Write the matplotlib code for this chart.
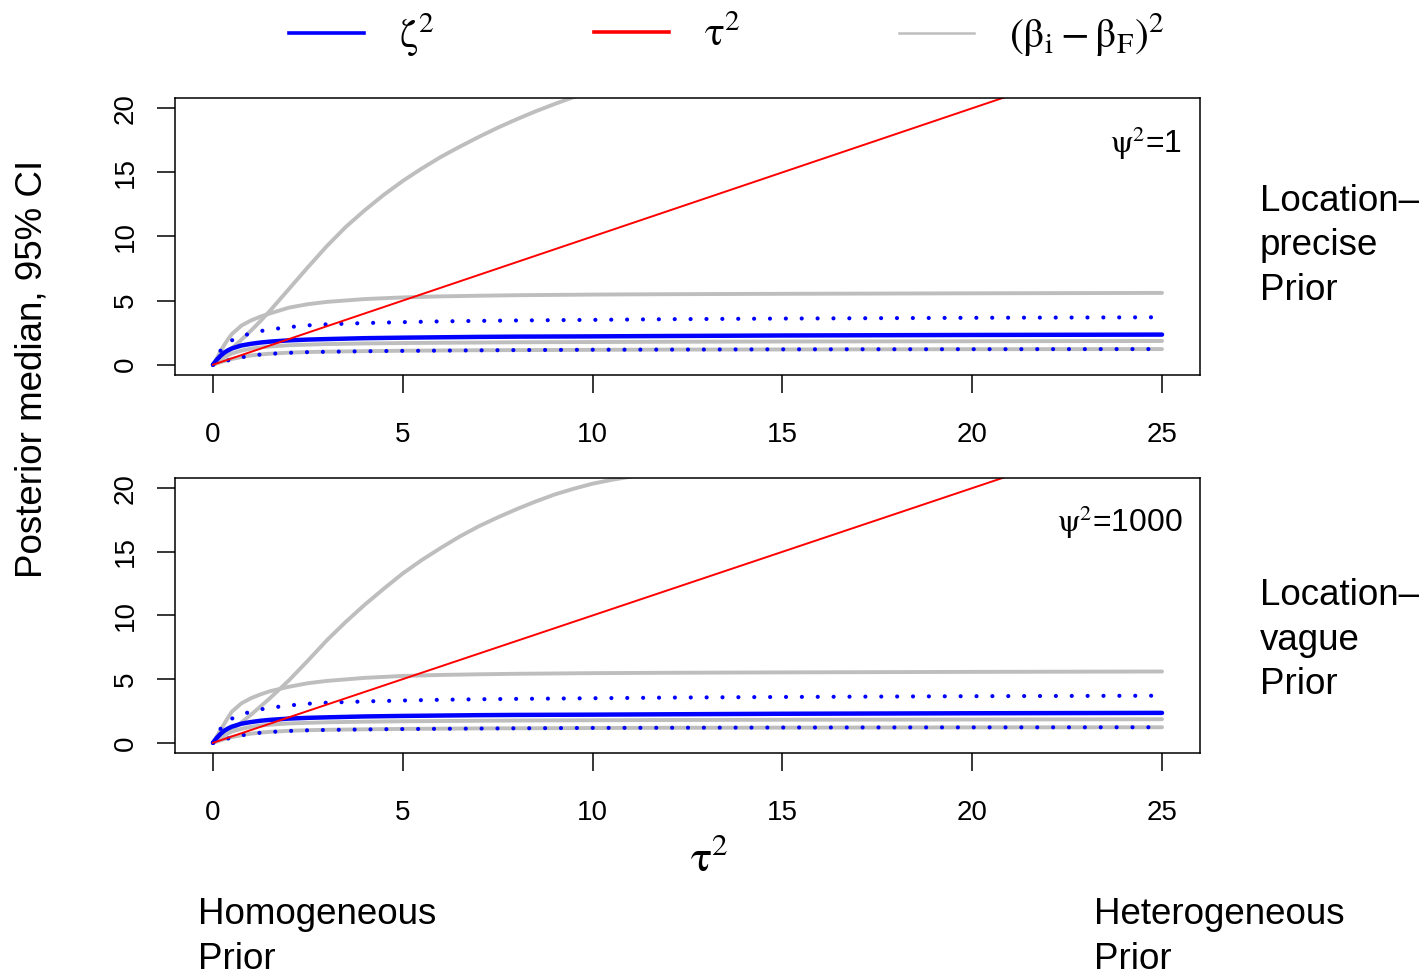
import matplotlib
matplotlib.use('Agg')
import matplotlib.pyplot as plt
from matplotlib.lines import Line2D

plt.rcParams['font.family'] = ['Liberation Sans', 'DejaVu Sans']
plt.rcParams['mathtext.fontset'] = 'stix'

# tau^2 grid the posterior summaries were read at
tau2 = [0, 0.1, 0.2, 0.3, 0.4, 0.5, 0.75, 1, 1.25, 1.5, 2, 2.5, 3, 4, 5, 6, 7, 8, 10, 12, 15, 20, 25]

# zeta^2: posterior median and 95% CI (same in both panels)
zeta_med = [0, 0.38, 0.7, 0.95, 1.13, 1.27, 1.5, 1.63, 1.73, 1.8, 1.9, 1.96, 2.0, 2.07, 2.11, 2.14, 2.17, 2.19, 2.21, 2.24, 2.28, 2.32, 2.35]
zeta_lo = [0, 0.09, 0.18, 0.27, 0.34, 0.41, 0.58, 0.7, 0.79, 0.85, 0.93, 0.98, 1.01, 1.05, 1.08, 1.1, 1.12, 1.14, 1.17, 1.18, 1.2, 1.21, 1.22]
zeta_hi = [0, 0.6, 1.1, 1.45, 1.72, 1.9, 2.22, 2.45, 2.62, 2.75, 2.93, 3.07, 3.15, 3.25, 3.32, 3.38, 3.42, 3.45, 3.5, 3.55, 3.6, 3.66, 3.7]

# (beta_i - beta_F)^2 summaries
beta_med = [0, 0.22, 0.42, 0.6, 0.75, 0.88, 1.1, 1.25, 1.35, 1.42, 1.52, 1.57, 1.61, 1.66, 1.69, 1.71, 1.73, 1.75, 1.77, 1.79, 1.81, 1.83, 1.85]
beta_lo = [0, 0.1, 0.2, 0.29, 0.37, 0.45, 0.6, 0.72, 0.8, 0.86, 0.94, 0.99, 1.02, 1.06, 1.09, 1.11, 1.13, 1.14, 1.16, 1.18, 1.19, 1.21, 1.22]
beta_hi_precise = [0, 0.5, 1.05, 1.55, 2.0, 2.4, 3.05, 3.45, 3.75, 4.0, 4.45, 4.72, 4.9, 5.12, 5.25, 5.33, 5.38, 5.42, 5.47, 5.5, 5.53, 5.57, 5.6]
beta_hi_vague = [0, 0.5, 1.0, 1.5, 2.0, 2.45, 3.1, 3.5, 3.8, 4.05, 4.4, 4.68, 4.86, 5.1, 5.25, 5.33, 5.38, 5.42, 5.47, 5.5, 5.53, 5.57, 5.6]

# steep grey curve (leaves the plot at the top)
steep_x_precise = [0, 0.25, 0.5, 0.75, 1, 1.25, 1.5, 1.75, 2, 2.5, 3, 3.5, 4, 4.5, 5, 5.5, 6, 6.5, 7, 7.5, 8, 8.5, 9, 9.5, 10]
steep_y_precise = [0, 0.62, 1.28, 1.95, 2.65, 3.4, 4.2, 5.05, 5.9, 7.6, 9.25, 10.75, 12.05, 13.25, 14.33, 15.3, 16.2, 17.0, 17.76, 18.48, 19.14, 19.76, 20.33, 20.87, 21.4]
steep_x_vague = [0, 0.25, 0.5, 0.75, 1, 1.25, 1.5, 1.75, 2, 2.5, 3, 3.5, 4, 4.5, 5, 5.5, 6, 6.5, 7, 7.5, 8, 8.5, 9, 9.5, 10, 10.5, 11, 11.5, 12]
steep_y_vague = [0, 0.5, 1.05, 1.6, 2.2, 2.85, 3.5, 4.2, 4.9, 6.45, 8.05, 9.5, 10.85, 12.1, 13.3, 14.35, 15.3, 16.2, 17.0, 17.7, 18.35, 18.95, 19.5, 19.95, 20.35, 20.65, 20.9, 21.15, 21.4]

# true tau^2 (identity line)
tau2_true = [0, 25]

psi_labels = [r'$\mathrm{\psi}^2$=1', r'$\mathrm{\psi}^2$=1000']
prior_labels = ['Location\u2013\nprecise\nPrior', 'Location\u2013\nvague\nPrior']

fig = plt.figure(figsize=(14.25, 9.76), dpi=100)

# axes positions in figure fractions (left, bottom, width, height)
ax_top = fig.add_axes([0.1228, 0.6158, 0.7193, 0.2838])
ax_bot = fig.add_axes([0.1228, 0.2285, 0.7193, 0.2818])

panels = [
    (ax_top, beta_hi_precise, steep_x_precise, steep_y_precise),
    (ax_bot, beta_hi_vague, steep_x_vague, steep_y_vague),
]

grey = '#bebebe'
dots = (0, (0.01, 3.8))

for k, (ax, b_hi, sx, sy) in enumerate(panels):
    # grey curves first, blue on top, red last
    ax.plot(sx, sy, color=grey, lw=2.8, solid_capstyle='round')
    ax.plot(tau2, b_hi, color=grey, lw=2.8, solid_capstyle='round')
    ax.plot(tau2, beta_med, color=grey, lw=2.8, solid_capstyle='round')
    ax.plot(tau2, beta_lo, color=grey, lw=2.8, solid_capstyle='round')

    ax.plot(tau2, zeta_med, color='#0000ff', lw=3.2, solid_capstyle='round')
    ax.plot(tau2, zeta_lo, color='#0000ff', lw=3.0, linestyle=dots, dash_capstyle='round')
    ax.plot(tau2, zeta_hi, color='#0000ff', lw=3.0, linestyle=dots, dash_capstyle='round')

    ax.plot(tau2_true, tau2_true, color='#ff0000', lw=1.4)

    ax.set_xlim(-1, 26)
    ax.set_ylim(-0.8, 20.8)
    ax.set_xticks([0, 5, 10, 15, 20, 25])
    ax.set_yticks([0, 5, 10, 15, 20])
    ax.tick_params(axis='both', direction='out', length=13, width=1.1, labelsize=20)
    ax.tick_params(axis='x', pad=21)
    ax.tick_params(axis='y', pad=13, labelrotation=90)
    for lab in ax.get_yticklabels():
        lab.set_va('center')
    for sp in ax.spines.values():
        sp.set_linewidth(1.1)

    ax.text(0.983, 0.838, psi_labels[k], transform=ax.transAxes,
            ha='right', va='center', fontsize=23)

# right-hand prior descriptions
fig.text(0.884, 0.748, prior_labels[0], ha='left', va='center', fontsize=26.5, linespacing=1.35)
fig.text(0.884, 0.344, prior_labels[1], ha='left', va='center', fontsize=26.5, linespacing=1.35)

# bottom annotations
fig.text(0.139, 0.04, 'Homogeneous\nPrior', ha='left', va='center', fontsize=26.5, linespacing=1.35)
fig.text(0.768, 0.04, 'Heterogeneous\nPrior', ha='left', va='center', fontsize=26.5, linespacing=1.35)

# axis titles
fig.text(0.0225, 0.622, 'Posterior median, 95% CI', rotation=90, ha='center', va='center', fontsize=26.5)
fig.text(0.498, 0.119, r'$\mathrm{\tau}^2$', ha='center', va='center', fontsize=32)

# legend across the top, three equally spaced entries
entries = [
    (Line2D([], [], color='#0000ff', lw=2.6), r'$\mathrm{\zeta}^2$', 0.203),
    (Line2D([], [], color='#ff0000', lw=2.6), r'$\mathrm{\tau}^2$', 0.417),
    (Line2D([], [], color=grey, lw=1.8), r'$(\mathrm{\beta}_{\mathrm{i}}-\mathrm{\beta}_{\mathrm{F}})^2$', 0.631),
]
for h, lab, x0 in entries:
    fig.legend([h], [lab], loc='center left', bbox_to_anchor=(x0, 0.964),
               frameon=False, fontsize=30, handlelength=1.8, handletextpad=0.84,
               borderpad=0, borderaxespad=0)

fig.savefig('out.png', dpi=100)
